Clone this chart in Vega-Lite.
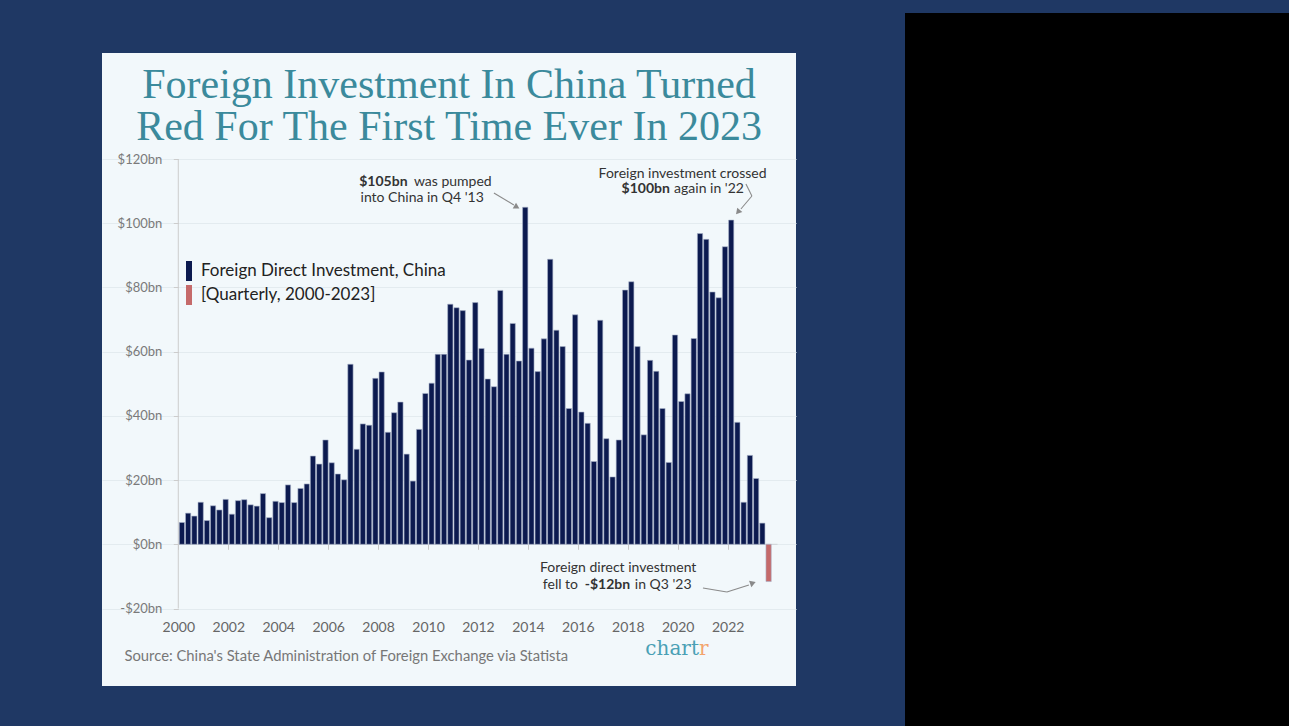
{
  "$schema": "https://vega.github.io/schema/vega-lite/v6.json",
  "background": "#1f3864",
  "padding": {"left": 102, "top": 13, "right": 0, "bottom": 0},
  "spacing": 109,
  "center": true,
  "bounds": "flush",
  "config": {"view": {"stroke": null}, "font": "Lato"},
  "hconcat": [
    {
      "width": 694,
      "height": 633,
      "view": {"fill": "#f2f8fb", "stroke": null},
      "title": {
        "text": ["Foreign Investment In China Turned", "Red For The First Time Ever In 2023"],
        "font": "Liberation Serif",
        "fontSize": 42,
        "fontWeight": "normal",
        "color": "#3b8a9c",
        "lineHeight": 42,
        "anchor": "middle",
        "frame": "group",
        "baseline": "top",
        "offset": -96
      },
      "layer": [
        {
          "data": {"values": [{}]},
          "mark": {"type": "rule", "color": "#cfd4d8", "strokeWidth": 1},
          "encoding": {
            "x": {"datum": {"year": 2000, "month": 1, "date": 1}, "type": "temporal"},
            "x2": {"datum": {"year": 2024, "month": 1, "date": 1}},
            "y": {"datum": 0}
          }
        },
        {
          "data": {"values": [{}]},
          "mark": {"type": "rule", "color": "#cccccc", "strokeWidth": 1},
          "encoding": {
            "x": {"datum": {"year": 2000, "month": 1, "date": 1}, "type": "temporal"},
            "y": {"datum": -20},
            "y2": {"datum": 120}
          }
        },
        {
          "data": {"values": [
            {"date": "2000/01/01", "fdi": 6.8}, {"date": "2000/04/01", "fdi": 9.7}, {"date": "2000/07/01", "fdi": 8.8}, {"date": "2000/10/01", "fdi": 13.1},
            {"date": "2001/01/01", "fdi": 7.4}, {"date": "2001/04/01", "fdi": 12.0}, {"date": "2001/07/01", "fdi": 10.7}, {"date": "2001/10/01", "fdi": 14.0},
            {"date": "2002/01/01", "fdi": 9.4}, {"date": "2002/04/01", "fdi": 13.6}, {"date": "2002/07/01", "fdi": 13.9}, {"date": "2002/10/01", "fdi": 12.3},
            {"date": "2003/01/01", "fdi": 11.9}, {"date": "2003/04/01", "fdi": 15.8}, {"date": "2003/07/01", "fdi": 8.3}, {"date": "2003/10/01", "fdi": 13.4},
            {"date": "2004/01/01", "fdi": 13.0}, {"date": "2004/04/01", "fdi": 18.5}, {"date": "2004/07/01", "fdi": 13.0}, {"date": "2004/10/01", "fdi": 17.4},
            {"date": "2005/01/01", "fdi": 18.8}, {"date": "2005/04/01", "fdi": 27.5}, {"date": "2005/07/01", "fdi": 25.0}, {"date": "2005/10/01", "fdi": 32.5},
            {"date": "2006/01/01", "fdi": 25.4}, {"date": "2006/04/01", "fdi": 21.9}, {"date": "2006/07/01", "fdi": 20.1}, {"date": "2006/10/01", "fdi": 56.1},
            {"date": "2007/01/01", "fdi": 29.6}, {"date": "2007/04/01", "fdi": 37.5}, {"date": "2007/07/01", "fdi": 37.1}, {"date": "2007/10/01", "fdi": 51.7},
            {"date": "2008/01/01", "fdi": 53.7}, {"date": "2008/04/01", "fdi": 34.9}, {"date": "2008/07/01", "fdi": 41.0}, {"date": "2008/10/01", "fdi": 44.3},
            {"date": "2009/01/01", "fdi": 28.1}, {"date": "2009/04/01", "fdi": 19.7}, {"date": "2009/07/01", "fdi": 35.8}, {"date": "2009/10/01", "fdi": 47.0},
            {"date": "2010/01/01", "fdi": 50.2}, {"date": "2010/04/01", "fdi": 59.2}, {"date": "2010/07/01", "fdi": 59.2}, {"date": "2010/10/01", "fdi": 74.8},
            {"date": "2011/01/01", "fdi": 73.7}, {"date": "2011/04/01", "fdi": 72.8}, {"date": "2011/07/01", "fdi": 57.4}, {"date": "2011/10/01", "fdi": 75.3},
            {"date": "2012/01/01", "fdi": 61.0}, {"date": "2012/04/01", "fdi": 51.5}, {"date": "2012/07/01", "fdi": 49.1}, {"date": "2012/10/01", "fdi": 79.1},
            {"date": "2013/01/01", "fdi": 59.2}, {"date": "2013/04/01", "fdi": 68.8}, {"date": "2013/07/01", "fdi": 57.1}, {"date": "2013/10/01", "fdi": 105.0},
            {"date": "2014/01/01", "fdi": 61.1}, {"date": "2014/04/01", "fdi": 53.8}, {"date": "2014/07/01", "fdi": 64.0}, {"date": "2014/10/01", "fdi": 88.8},
            {"date": "2015/01/01", "fdi": 66.7}, {"date": "2015/04/01", "fdi": 61.6}, {"date": "2015/07/01", "fdi": 42.3}, {"date": "2015/10/01", "fdi": 71.5},
            {"date": "2016/01/01", "fdi": 41.2}, {"date": "2016/04/01", "fdi": 37.7}, {"date": "2016/07/01", "fdi": 25.8}, {"date": "2016/10/01", "fdi": 69.8},
            {"date": "2017/01/01", "fdi": 32.9}, {"date": "2017/04/01", "fdi": 21.0}, {"date": "2017/07/01", "fdi": 32.5}, {"date": "2017/10/01", "fdi": 79.2},
            {"date": "2018/01/01", "fdi": 81.8}, {"date": "2018/04/01", "fdi": 61.6}, {"date": "2018/07/01", "fdi": 34.1}, {"date": "2018/10/01", "fdi": 57.3},
            {"date": "2019/01/01", "fdi": 53.9}, {"date": "2019/04/01", "fdi": 42.3}, {"date": "2019/07/01", "fdi": 25.5}, {"date": "2019/10/01", "fdi": 65.2},
            {"date": "2020/01/01", "fdi": 44.5}, {"date": "2020/04/01", "fdi": 46.9}, {"date": "2020/07/01", "fdi": 64.1}, {"date": "2020/10/01", "fdi": 96.8},
            {"date": "2021/01/01", "fdi": 95.0}, {"date": "2021/04/01", "fdi": 78.6}, {"date": "2021/07/01", "fdi": 76.8}, {"date": "2021/10/01", "fdi": 92.7},
            {"date": "2022/01/01", "fdi": 101.0}, {"date": "2022/04/01", "fdi": 38.0}, {"date": "2022/07/01", "fdi": 13.1}, {"date": "2022/10/01", "fdi": 27.7},
            {"date": "2023/01/01", "fdi": 20.5}, {"date": "2023/04/01", "fdi": 6.6}, {"date": "2023/07/01", "fdi": -11.6}
          ]},
          "mark": {"type": "bar", "stroke": "#a9b3c9", "strokeWidth": 0.6},
          "encoding": {
            "x": {
              "field": "date", "type": "temporal", "timeUnit": "yearquarter",
              "scale": {"domain": [{"year": 1996, "month": 12, "date": 11}, {"year": 2024, "month": 9, "date": 27}]},
              "axis": {
                "orient": "bottom", "offset": -141.7, "domain": false, "grid": false,
                "values": [{"year": 2000}, {"year": 2002}, {"year": 2004}, {"year": 2006}, {"year": 2008}, {"year": 2010}, {"year": 2012}, {"year": 2014}, {"year": 2016}, {"year": 2018}, {"year": 2020}, {"year": 2022}],
                "format": "%Y", "tickSize": 5, "tickColor": "#c8c8c8",
                "labelFont": "Lato", "labelFontSize": 14, "labelColor": "#666666", "labelPadding": 71,
                "labelFlush": false, "labelOverlap": false,
                "title": "Source: China's State Administration of Foreign Exchange via Statista",
                "titleFont": "Lato", "titleFontSize": 14.8, "titleFontWeight": "normal", "titleColor": "#777777",
                "titleAnchor": "start", "titleAlign": "left", "titleX": 22, "titleY": 112.4, "titleBaseline": "middle"
              }
            },
            "y": {
              "field": "fdi", "type": "quantitative",
              "scale": {"domain": [-44.14, 153.05], "nice": false, "zero": false},
              "axis": {
                "orient": "left", "offset": -76.3, "domain": false,
                "values": [-20, 0, 20, 40, 60, 80, 100, 120],
                "tickSize": 5, "tickColor": "#cccccc",
                "grid": true, "gridColor": "#e3ebef",
                "labelExpr": "datum.value < 0 ? '-$' + (-datum.value) + 'bn' : '$' + datum.value + 'bn'",
                "labelFont": "Lato", "labelFontSize": 13, "labelColor": "#7a7a7a", "labelPadding": 11.5,
                "title": null
              }
            },
            "color": {"condition": {"test": "datum.fdi < 0", "value": "#c56a6a"}, "value": "#0c1a4f"}
          }
        },
        {
          "data": {"values": [{"series": "Foreign Direct Investment, China"}, {"series": "[Quarterly, 2000-2023]"}]},
          "mark": {"type": "square", "opacity": 0},
          "encoding": {
            "color": {
              "field": "series", "type": "nominal",
              "scale": {"domain": ["Foreign Direct Investment, China", "[Quarterly, 2000-2023]"], "range": ["#0c1a4f", "#c56a6a"]},
              "legend": {
                "orient": "none", "legendX": 77, "legendY": 248, "title": null,
                "symbolType": "M-0.3,-1H0.3V1H-0.3Z", "symbolSize": 400, "symbolOpacity": 1, "symbolStrokeWidth": 0,
                "labelFont": "Lato", "labelFontSize": 17, "labelColor": "#222222", "labelOffset": 2, "labelLimit": 400,
                "rowPadding": 4, "padding": 0
              }
            }
          }
        },
        {
          "data": {"values": [{}]},
          "mark": {"type": "text", "font": "Lato", "fontSize": 14, "fontWeight": "bold", "color": "#333333", "align": "left", "baseline": "middle"},
          "encoding": {"x": {"datum": {"year": 2007, "month": 4, "date": 1}, "type": "temporal"}, "y": {"datum": 112.96}, "text": {"value": "$105bn"}}
        },
        {
          "data": {"values": [{}]},
          "mark": {"type": "text", "font": "Lato", "fontSize": 14, "color": "#333333", "align": "left", "baseline": "middle"},
          "encoding": {"x": {"datum": {"year": 2009, "month": 6, "date": 9}, "type": "temporal"}, "y": {"datum": 112.96}, "text": {"value": "was pumped"}}
        },
        {
          "data": {"values": [{}]},
          "mark": {"type": "text", "font": "Lato", "fontSize": 14, "color": "#333333", "align": "center", "baseline": "middle"},
          "encoding": {"x": {"datum": {"year": 2009, "month": 10, "date": 7}, "type": "temporal"}, "y": {"datum": 107.79}, "text": {"value": "into China in Q4 '13"}}
        },
        {
          "data": {"values": [{}]},
          "mark": {"type": "text", "font": "Lato", "fontSize": 14, "color": "#333333", "align": "center", "baseline": "middle"},
          "encoding": {"x": {"datum": {"year": 2020, "month": 3, "date": 13}, "type": "temporal"}, "y": {"datum": 115.36}, "text": {"value": "Foreign investment crossed"}}
        },
        {
          "data": {"values": [{}]},
          "mark": {"type": "text", "font": "Lato", "fontSize": 14, "fontWeight": "bold", "color": "#333333", "align": "left", "baseline": "middle"},
          "encoding": {"x": {"datum": {"year": 2017, "month": 10, "date": 3}, "type": "temporal"}, "y": {"datum": 110.59}, "text": {"value": "$100bn"}}
        },
        {
          "data": {"values": [{}]},
          "mark": {"type": "text", "font": "Lato", "fontSize": 14, "color": "#333333", "align": "right", "baseline": "middle"},
          "encoding": {"x": {"datum": {"year": 2022, "month": 8, "date": 27}, "type": "temporal"}, "y": {"datum": 110.59}, "text": {"value": "again in '22"}}
        },
        {
          "data": {"values": [{}]},
          "mark": {"type": "text", "font": "Lato", "fontSize": 14, "color": "#333333", "align": "center", "baseline": "middle"},
          "encoding": {"x": {"datum": {"year": 2017, "month": 8, "date": 14}, "type": "temporal"}, "y": {"datum": -7.48}, "text": {"value": "Foreign direct investment"}}
        },
        {
          "data": {"values": [{}]},
          "mark": {"type": "text", "font": "Lato", "fontSize": 14, "color": "#333333", "align": "left", "baseline": "middle"},
          "encoding": {"x": {"datum": {"year": 2014, "month": 8, "date": 8}, "type": "temporal"}, "y": {"datum": -12.68}, "text": {"value": "fell to"}}
        },
        {
          "data": {"values": [{}]},
          "mark": {"type": "text", "font": "Lato", "fontSize": 14, "fontWeight": "bold", "color": "#333333", "align": "center", "baseline": "middle"},
          "encoding": {"x": {"datum": {"year": 2017, "month": 3, "date": 9}, "type": "temporal"}, "y": {"datum": -12.68}, "text": {"value": "-$12bn"}}
        },
        {
          "data": {"values": [{}]},
          "mark": {"type": "text", "font": "Lato", "fontSize": 14, "color": "#333333", "align": "right", "baseline": "middle"},
          "encoding": {"x": {"datum": {"year": 2020, "month": 7, "date": 23}, "type": "temporal"}, "y": {"datum": -12.68}, "text": {"value": "in Q3 '23"}}
        },
        {
          "data": {"values": [{}]},
          "mark": {"type": "rule", "color": "#8a8a8a", "strokeWidth": 1.1},
          "encoding": {
            "x": {"datum": {"year": 2012, "month": 8, "date": 22}, "type": "temporal"}, "x2": {"datum": {"year": 2013, "month": 6, "date": 10}},
            "y": {"datum": 109.44}, "y2": {"datum": 105.7}
          }
        },
        {
          "data": {"values": [{}]},
          "mark": {"type": "point", "shape": "triangle-right", "filled": true, "color": "#8a8a8a", "opacity": 1, "size": 45, "angle": 30},
          "encoding": {"x": {"datum": {"year": 2013, "month": 7, "date": 24}, "type": "temporal"}, "y": {"datum": 105.08}}
        },
        {
          "data": {"values": [{}]},
          "mark": {"type": "rule", "color": "#8a8a8a", "strokeWidth": 1.1},
          "encoding": {
            "x": {"datum": {"year": 2022, "month": 9, "date": 26}, "type": "temporal"}, "x2": {"datum": {"year": 2022, "month": 12, "date": 22}},
            "y": {"datum": 112.24}, "y2": {"datum": 108.5}
          }
        },
        {
          "data": {"values": [{}]},
          "mark": {"type": "rule", "color": "#8a8a8a", "strokeWidth": 1.1},
          "encoding": {
            "x": {"datum": {"year": 2022, "month": 12, "date": 22}, "type": "temporal"}, "x2": {"datum": {"year": 2022, "month": 7, "date": 14}},
            "y": {"datum": 108.5}, "y2": {"datum": 104.45}
          }
        },
        {
          "data": {"values": [{}]},
          "mark": {"type": "point", "shape": "triangle-right", "filled": true, "color": "#8a8a8a", "opacity": 1, "size": 45, "angle": 131},
          "encoding": {"x": {"datum": {"year": 2022, "month": 5, "date": 31}, "type": "temporal"}, "y": {"datum": 103.5}}
        },
        {
          "data": {"values": [{}]},
          "mark": {"type": "rule", "color": "#8a8a8a", "strokeWidth": 1.1},
          "encoding": {
            "x": {"datum": {"year": 2021, "month": 1, "date": 5}, "type": "temporal"}, "x2": {"datum": {"year": 2021, "month": 12, "date": 21}},
            "y": {"datum": -13.61}, "y2": {"datum": -14.86}
          }
        },
        {
          "data": {"values": [{}]},
          "mark": {"type": "rule", "color": "#8a8a8a", "strokeWidth": 1.1},
          "encoding": {
            "x": {"datum": {"year": 2021, "month": 12, "date": 21}, "type": "temporal"}, "x2": {"datum": {"year": 2022, "month": 11, "date": 8}},
            "y": {"datum": -14.86}, "y2": {"datum": -12.68}
          }
        },
        {
          "data": {"values": [{}]},
          "mark": {"type": "point", "shape": "triangle-right", "filled": true, "color": "#8a8a8a", "opacity": 1, "size": 45, "angle": -20},
          "encoding": {"x": {"datum": {"year": 2023, "month": 1, "date": 6}, "type": "temporal"}, "y": {"datum": -12.05}}
        },
        {
          "data": {"values": [{}]},
          "mark": {"type": "text", "font": "DejaVu Serif", "fontSize": 20, "color": "#4aa0b5", "align": "right", "baseline": "alphabetic"},
          "encoding": {"x": {"datum": {"year": 2020, "month": 11, "date": 7}, "type": "temporal"}, "y": {"datum": -34.5}, "text": {"value": "chart"}}
        },
        {
          "data": {"values": [{}]},
          "mark": {"type": "text", "font": "DejaVu Serif", "fontSize": 20, "color": "#f3a46d", "align": "left", "baseline": "alphabetic"},
          "encoding": {"x": {"datum": {"year": 2020, "month": 11, "date": 7}, "type": "temporal"}, "y": {"datum": -34.5}, "text": {"value": "r"}}
        }
      ]
    },
    {
      "width": 384,
      "height": 713,
      "view": {"fill": "#000000", "stroke": null},
      "data": {"values": [{}]},
      "mark": {"type": "point", "opacity": 0}
    }
  ]
}
